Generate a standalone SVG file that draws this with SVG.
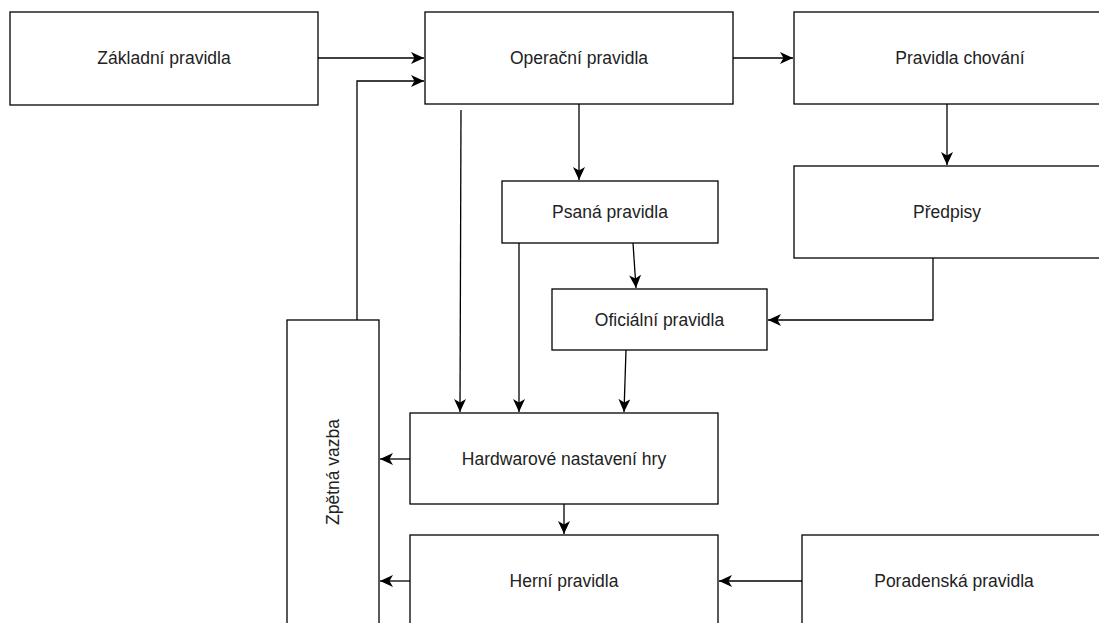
<svg xmlns="http://www.w3.org/2000/svg" width="1099" height="623" viewBox="0 0 1099 623">
<style>
.box{fill:#fff;stroke:#000;stroke-width:1.3}
.lbl{font-family:"Liberation Sans",Arial,sans-serif;font-size:17.5px;fill:#222;text-anchor:middle;dominant-baseline:central}
.edge{fill:none;stroke:#000;stroke-width:1.3}
</style>
<defs>
<marker id="arr" markerUnits="userSpaceOnUse" markerWidth="14" markerHeight="12" viewBox="0 0 14 12" refX="13" refY="6" orient="auto">
<path d="M0,0 L13,6 L0,12 L3.5,6 z" fill="#000"/>
</marker>
</defs>
<rect width="1099" height="623" fill="#fff"/>
<g id="connectors">
<path class="edge" d="M318,58 L424,58" marker-end="url(#arr)"/>
<path class="edge" d="M357,320 L357,81 L424,81" marker-end="url(#arr)"/>
<path class="edge" d="M733,58 L793,58" marker-end="url(#arr)"/>
<path class="edge" d="M947,104 L947,165" marker-end="url(#arr)"/>
<path class="edge" d="M933,258 L933,320 L768,320" marker-end="url(#arr)"/>
<path class="edge" d="M579,104 L579,180" marker-end="url(#arr)"/>
<path class="edge" d="M633,243 L636,288" marker-end="url(#arr)"/>
<path class="edge" d="M461,110 L460,412" marker-end="url(#arr)"/>
<path class="edge" d="M519,243 L519,412" marker-end="url(#arr)"/>
<path class="edge" d="M626,350 L624,412" marker-end="url(#arr)"/>
<path class="edge" d="M410,459 L380,459" marker-end="url(#arr)"/>
<path class="edge" d="M564,504 L564,534" marker-end="url(#arr)"/>
<path class="edge" d="M410,581 L380,581" marker-end="url(#arr)"/>
<path class="edge" d="M802,581 L719,581" marker-end="url(#arr)"/>
</g>
<g id="zakladni"><rect class="box" x="10" y="12" width="308" height="93"/><text class="lbl" x="164" y="58">Základní pravidla</text></g>
<g id="operacni"><rect class="box" x="425" y="12" width="308" height="92"/><text class="lbl" x="579" y="58">Operační pravidla</text></g>
<g id="chovani"><rect class="box" x="794" y="12" width="332" height="92"/><text class="lbl" x="960" y="58">Pravidla chování</text></g>
<g id="predpisy"><rect class="box" x="794" y="166" width="306" height="92"/><text class="lbl" x="947" y="212">Předpisy</text></g>
<g id="psana"><rect class="box" x="502" y="181" width="216" height="62"/><text class="lbl" x="610" y="212">Psaná pravidla</text></g>
<g id="oficialni"><rect class="box" x="552" y="289" width="215" height="61"/><text class="lbl" x="659.5" y="319.5">Oficiální pravidla</text></g>
<g id="zpetna"><rect class="box" x="287" y="320" width="92" height="320"/><text class="lbl" transform="translate(333,472) rotate(-90)" x="0" y="0">Zpětná vazba</text></g>
<g id="hardware"><rect class="box" x="410" y="413" width="308" height="91"/><text class="lbl" x="564" y="458.5">Hardwarové nastavení hry</text></g>
<g id="herni"><rect class="box" x="410" y="535" width="308" height="92"/><text class="lbl" x="564" y="581">Herní pravidla</text></g>
<g id="poradenska"><rect class="box" x="802" y="535" width="304" height="92"/><text class="lbl" x="954" y="581">Poradenská pravidla</text></g>
</svg>
